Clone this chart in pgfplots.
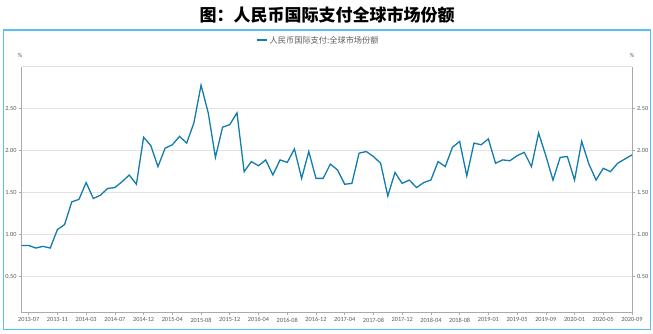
\documentclass[border=0pt]{standalone}
\usepackage{pgfplots}
\pgfplotsset{compat=1.18}
\usepackage{fontspec}
\setmainfont{Carlito}
\newfontfamily\cjk{Noto Sans CJK SC}
\definecolor{linec}{RGB}{18,124,172}
\definecolor{boxc}{RGB}{86,192,240}
\definecolor{gridc}{RGB}{226,226,226}
\definecolor{axc}{RGB}{170,170,170}
\definecolor{txtc}{RGB}{90,90,90}
\begin{document}
\begin{tikzpicture}[x=1pt,y=1pt]
\path[use as bounding box] (0,0) rectangle (653,333);
\draw[boxc, line width=1.8pt] (3.5,3.5) rectangle (650.5,303);
\node[font=\cjk\bfseries\fontsize{17}{19}\selectfont, text=black] at (327,318) {图：人民币国际支付全球市场份额};
\draw[linec, line width=1.4pt] (257,293) -- (267,293);
\node[anchor=west, font=\cjk\fontsize{8.2}{9}\selectfont, text=txtc, inner sep=0pt] at (269.5,293) {人民币国际支付:全球市场份额};
\node[font=\fontsize{6}{7}\selectfont, text=txtc] at (20,278) {\%};
\node[font=\fontsize{6}{7}\selectfont, text=txtc] at (632,278) {\%};
\begin{axis}[
  at={(21.5pt,20.3pt)}, anchor=south west,
  scale only axis, width=610.5pt, height=246pt,
  xmin=0, xmax=85, ymin=0.07, ymax=3,
  axis x line*=bottom, axis y line*=left,
  axis line style={draw=axc, line width=0.8pt},
  xtick={1,5,...,85},
  xticklabels={2013-07,2013-11,2014-03,2014-07,2014-12,2015-04,2015-08,2015-12,2016-04,2016-08,2016-12,2017-04,2017-08,2017-12,2018-04,2018-08,2019-01,2019-05,2019-09,2020-01,2020-05,2020-09},
  ytick={0.5,1,1.5,2,2.5},
  yticklabels={0.50,1.00,1.50,2.00,2.50},
  extra y ticks={3}, extra y tick labels={},
  extra y tick style={grid=major, major tick length=0pt},
  ymajorgrids, grid style={draw=gridc, line width=0.6pt},
  tick align=outside, major tick length=2.5pt,
  tick style={draw=axc, line width=0.6pt},
  ticklabel style={font=\fontsize{6.3}{7}\selectfont, text=txtc},
  xticklabel style={yshift=1pt},
  yticklabel style={xshift=1pt},
  /pgf/number format/assume math mode=true,
]
\addplot[linec, line width=1.3pt, mark=none] coordinates {
(0,0.87)(1,0.87)(2,0.84)(3,0.86)(4,0.84)(5,1.06)(6,1.12)(7,1.39)(8,1.42)(9,1.62)
(10,1.43)(11,1.47)(12,1.55)(13,1.56)(14,1.63)(15,1.71)(16,1.60)(17,2.16)(18,2.06)(19,1.81)
(20,2.03)(21,2.07)(22,2.17)(23,2.09)(24,2.33)(25,2.78)(26,2.45)(27,1.92)(28,2.28)(29,2.31)
(30,2.45)(31,1.75)(32,1.87)(33,1.82)(34,1.89)(35,1.71)(36,1.89)(37,1.86)(38,2.02)(39,1.67)
(40,1.99)(41,1.67)(42,1.67)(43,1.84)(44,1.77)(45,1.60)(46,1.61)(47,1.97)(48,1.99)(49,1.93)
(50,1.85)(51,1.46)(52,1.74)(53,1.61)(54,1.65)(55,1.56)(56,1.62)(57,1.65)(58,1.87)(59,1.81)
(60,2.04)(61,2.11)(62,1.70)(63,2.09)(64,2.07)(65,2.14)(66,1.85)(67,1.89)(68,1.88)(69,1.94)
(70,1.98)(71,1.81)(72,2.21)(73,1.94)(74,1.65)(75,1.92)(76,1.93)(77,1.65)(78,2.11)(79,1.84)
(80,1.65)(81,1.79)(82,1.75)(83,1.85)(84,1.90)(85,1.95)
};
\end{axis}
\begin{axis}[
  at={(21.5pt,20.3pt)}, anchor=south west,
  scale only axis, width=610.5pt, height=246pt,
  xmin=0, xmax=85, ymin=0.07, ymax=3,
  axis x line=none, axis y line*=right,
  axis line style={draw=axc, line width=0.8pt},
  ytick={0.5,1,1.5,2,2.5},
  yticklabels={0.50,1.00,1.50,2.00,2.50},
  tick align=outside, major tick length=2.5pt,
  tick style={draw=axc, line width=0.6pt},
  ticklabel style={font=\fontsize{6.3}{7}\selectfont, text=txtc},
  yticklabel style={xshift=-1pt},
]
\addplot[draw=none] coordinates {(0,1)};
\end{axis}
\end{tikzpicture}
\end{document}
